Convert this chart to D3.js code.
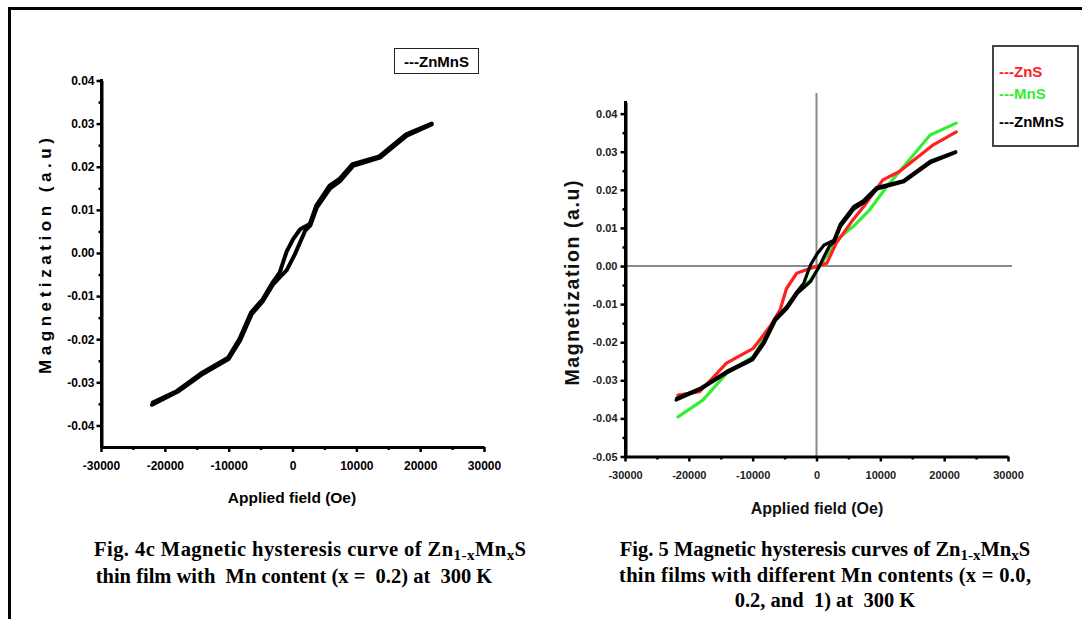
<!DOCTYPE html>
<html>
<head>
<meta charset="utf-8">
<script src="https://cdn.jsdelivr.net/npm/d3@7"></script>
<style>
  body { margin: 0; background: #fff; }
  text { font-family: "Liberation Sans", Arial, sans-serif; }
  .cap { font-family: "Liberation Serif", "Times New Roman", serif; font-weight: bold; font-size: 20.5px; }
</style>
</head>
<body>
<div id="chart"></div>
<script>
// Tick values
const fieldTicks = [-30000, -20000, -10000, 0, 10000, 20000, 30000];
const fieldMinor = [-25000, -15000, -5000, 5000, 15000, 25000];
const leftMagTicks = [-0.04, -0.03, -0.02, -0.01, 0, 0.01, 0.02, 0.03, 0.04];
const leftMagMinor = [-0.035, -0.025, -0.015, -0.005, 0.005, 0.015, 0.025, 0.035];
const rightMagTicks = [-0.05, -0.04, -0.03, -0.02, -0.01, 0, 0.01, 0.02, 0.03, 0.04];
const rightMagMinor = [-0.045, -0.035, -0.025, -0.015, -0.005, 0.005, 0.015, 0.025, 0.035];

// ZnMnS (x = 0.2) loop, [field Oe, magnetization a.u]
const znmnsUp = [
  [-22000, -0.0352], [-18000, -0.0322], [-14000, -0.0280], [-10000, -0.0246],
  [-8200, -0.0203], [-6400, -0.0142], [-4600, -0.0111], [-3000, -0.0072],
  [-1900, -0.0055], [-900, -0.0040], [400, -0.0002], [2000, 0.0052],
  [2800, 0.0064], [3800, 0.0105], [5900, 0.0150], [7400, 0.0166],
  [9500, 0.0202], [13700, 0.0221], [17900, 0.0272], [21800, 0.0298]
];
const znmnsDown = [
  [21800, 0.0300], [17800, 0.0275], [13600, 0.0224], [9400, 0.0206],
  [7300, 0.0171], [5800, 0.0156], [3700, 0.0109], [2700, 0.0067],
  [1200, 0.0055], [100, 0.0032], [-900, 0.0004], [-2000, -0.0045],
  [-3100, -0.0068], [-4700, -0.0108], [-6500, -0.0138], [-8300, -0.0199],
  [-10100, -0.0243], [-14100, -0.0277], [-18100, -0.0320], [-21900, -0.0347]
];
// ZnS (x = 0.0)
const zns = [
  [-21700, -0.0339], [-18300, -0.0330], [-14100, -0.0255], [-9900, -0.0216],
  [-7300, -0.0159], [-5700, -0.0115], [-4700, -0.0059], [-3100, -0.0019],
  [-1600, -0.0010], [1600, 0.0007], [3100, 0.0060], [5700, 0.0121],
  [7800, 0.0165], [10400, 0.0226], [13000, 0.0248], [18300, 0.0318], [21900, 0.0352]
];
// MnS (x = 1)
const mns = [
  [-21700, -0.0396], [-17800, -0.0352], [-14100, -0.0282], [-9900, -0.0238],
  [-6800, -0.0150], [-3100, -0.0072], [-1000, -0.0037], [500, -0.0002],
  [3100, 0.0068], [5700, 0.0103], [8300, 0.0147], [11000, 0.0208],
  [14100, 0.0270], [17800, 0.0344], [21900, 0.0375]
];

const legendRight = [
  {name: "---ZnS", color: "#ff2020"},
  {name: "---MnS", color: "#33ee33"},
  {name: "---ZnMnS", color: "#000000"}
];

const svg = d3.select("#chart").append("svg")
  .attr("width", 1082).attr("height", 619)
  .style("display", "block");
svg.append("rect").attr("width", 1082).attr("height", 619).attr("fill", "#fff");

// page frame
svg.append("line").attr("x1", 8).attr("x2", 1082).attr("y1", 8.5).attr("y2", 8.5)
  .attr("stroke", "#000").attr("stroke-width", 3);
svg.append("line").attr("x1", 9.5).attr("x2", 9.5).attr("y1", 7).attr("y2", 619)
  .attr("stroke", "#000").attr("stroke-width", 3);

const fmtMag = v => v.toFixed(2);
const fmtField = v => String(v);

// Axis helper
function axes(x, y, o) {
  const g = svg.append("g");
  // minor ticks
  g.append("g").attr("transform", `translate(0,${o.x0})`)
    .call(d3.axisBottom(x).tickValues(fieldMinor).tickSize(o.minor).tickFormat(""))
    .call(s => s.select(".domain").remove());
  g.append("g").attr("transform", `translate(${o.y0},0)`)
    .call(d3.axisLeft(y).tickValues(o.yMinor).tickSize(o.minor).tickFormat(""))
    .call(s => s.select(".domain").remove());
  g.append("g").attr("transform", `translate(0,${o.x0})`)
    .call(d3.axisBottom(x).tickValues(fieldTicks).tickFormat(fmtField)
      .tickSize(o.major).tickSizeOuter(0).tickPadding(o.xPad));
  g.append("g").attr("transform", `translate(${o.y0},0)`)
    .call(d3.axisLeft(y).tickValues(o.yTicks).tickFormat(fmtMag)
      .tickSize(o.major).tickSizeOuter(0).tickPadding(o.yPad));
  g.selectAll(".tick line").attr("stroke", "#000").attr("stroke-width", 2.5);
  g.selectAll(".domain").attr("stroke", "#000").attr("stroke-width", 3);
  g.selectAll(".tick text").attr("fill", o.tickColor).style("font-size", o.tickSize + "px")
    .style("font-weight", "bold").style("font-family", '"Liberation Sans", Arial, sans-serif');
  return g;
}

// ----- Left panel (Fig. 4c) -----
const xL = d3.scaleLinear().domain([-30000, 30000]).range([101, 484]);
const yL = d3.scaleLinear().domain([-0.045, 0.04]).range([447, 80.5]);
axes(xL, yL, {x0: 447, y0: 101.5, yTicks: leftMagTicks, yMinor: leftMagMinor,
  major: 5, minor: 3, xPad: 9, yPad: 2, tickSize: 12, tickColor: "#000"});
// extend y domain line to the x axis
svg.append("line").attr("x1", 101.5).attr("x2", 101.5).attr("y1", 79).attr("y2", 448)
  .attr("stroke", "#000").attr("stroke-width", 3);

const lineL = d3.line().x(d => xL(d[0])).y(d => yL(d[1]));
[znmnsUp, znmnsDown].forEach(b => {
  svg.append("path").attr("d", lineL(b)).attr("fill", "none")
    .attr("stroke", "#000").attr("stroke-width", 4)
    .attr("stroke-linejoin", "round").attr("stroke-linecap", "round");
});

svg.append("text").attr("transform", "translate(51,256) rotate(-90)")
  .attr("text-anchor", "middle").style("font-size", "17px").style("font-weight", "bold")
  .attr("textLength", 236).attr("lengthAdjust", "spacing").text("Magnetization (a.u)");
svg.append("text").attr("x", 292).attr("y", 503).attr("text-anchor", "middle")
  .style("font-size", "15.5px").style("font-weight", "bold").text("Applied field (Oe)");

// left legend
svg.append("rect").attr("x", 394.5).attr("y", 48.5).attr("width", 84).attr("height", 25)
  .attr("fill", "#fff").attr("stroke", "#222").attr("stroke-width", 1);
svg.append("text").attr("x", 436.5).attr("y", 66.5).attr("text-anchor", "middle")
  .style("font-size", "15px").style("font-weight", "bold").text("---ZnMnS");

// ----- Right panel (Fig. 5) -----
const xR = d3.scaleLinear().domain([-30000, 30000]).range([625, 1008]);
const yR = d3.scaleLinear().domain([-0.05, 0.043]).range([456.5, 102.2]);

// crosshair
svg.append("line").attr("x1", 626).attr("x2", 1012).attr("y1", yR(0)).attr("y2", yR(0))
  .attr("stroke", "#8a8a8a").attr("stroke-width", 2);
svg.append("line").attr("x1", xR(0)).attr("x2", xR(0)).attr("y1", 93).attr("y2", 456)
  .attr("stroke", "#8a8a8a").attr("stroke-width", 2);

axes(xR, yR, {x0: 456.5, y0: 625.5, yTicks: rightMagTicks, yMinor: rightMagMinor,
  major: 5, minor: 3, xPad: 10, yPad: 3, tickSize: 11, tickColor: "#222"});
svg.append("line").attr("x1", 625.5).attr("x2", 625.5).attr("y1", 101).attr("y2", 458)
  .attr("stroke", "#000").attr("stroke-width", 3);

const lineR = d3.line().x(d => xR(d[0])).y(d => yR(d[1]));
[[mns, "#33ee33"], [zns, "#ff2020"], [znmnsUp, "#000"], [znmnsDown, "#000"]].forEach(([d, c]) => {
  svg.append("path").attr("d", lineR(d)).attr("fill", "none")
    .attr("stroke", c).attr("stroke-width", 3.2)
    .attr("stroke-linejoin", "round").attr("stroke-linecap", "round");
});

svg.append("text").attr("transform", "translate(579,283) rotate(-90)")
  .attr("text-anchor", "middle").style("font-size", "19.5px").style("font-weight", "bold")
  .attr("textLength", 205).attr("lengthAdjust", "spacing")
  .attr("fill", "#111").text("Magnetization (a.u)");
svg.append("text").attr("x", 817).attr("y", 514).attr("text-anchor", "middle")
  .style("font-size", "16px").style("font-weight", "bold").attr("fill", "#111")
  .text("Applied field (Oe)");

// right legend
svg.append("rect").attr("x", 993).attr("y", 46).attr("width", 85).attr("height", 100)
  .attr("fill", "#fff").attr("stroke", "#444").attr("stroke-width", 2);
svg.append("g").selectAll("text").data(legendRight).join("text")
  .attr("x", 999).attr("y", (d, i) => [77, 99, 127][i])
  .attr("fill", d => d.color).style("font-size", "15px").style("font-weight", "bold")
  .text(d => d.name);

// ----- captions -----
function caption(x, y, parts, len) {
  const t = svg.append("text").attr("class", "cap").attr("x", x).attr("y", y)
    .attr("text-anchor", "middle");
  if (len) t.attr("textLength", len).attr("lengthAdjust", "spacing");
  parts.forEach(p => {
    if (typeof p === "string") t.append("tspan").text(p);
    else t.append("tspan").attr("dy", p.dy).style("font-size", p.size || null).text(p.t);
  });
}
caption(310, 556, ["Fig. 4c Magnetic hysteresis curve of Zn",
  {t: "1-x", dy: 4, size: "15px"}, {t: "Mn", dy: -4}, {t: "x", dy: 4, size: "15px"}, {t: "S", dy: -4}], 432);
caption(294, 583, ["thin film with  Mn content (x =  0.2) at  300 K"]);
caption(825, 556, ["Fig. 5 Magnetic hysteresis curves of Zn",
  {t: "1-x", dy: 4, size: "15px"}, {t: "Mn", dy: -4}, {t: "x", dy: 4, size: "15px"}, {t: "S", dy: -4}]);
caption(825, 582, ["thin films with different Mn contents (x = 0.0,"], 412);
caption(825, 607, ["0.2, and  1) at  300 K"]);
svg.selectAll(".cap").style("white-space", "pre");
</script>
</body>
</html>
